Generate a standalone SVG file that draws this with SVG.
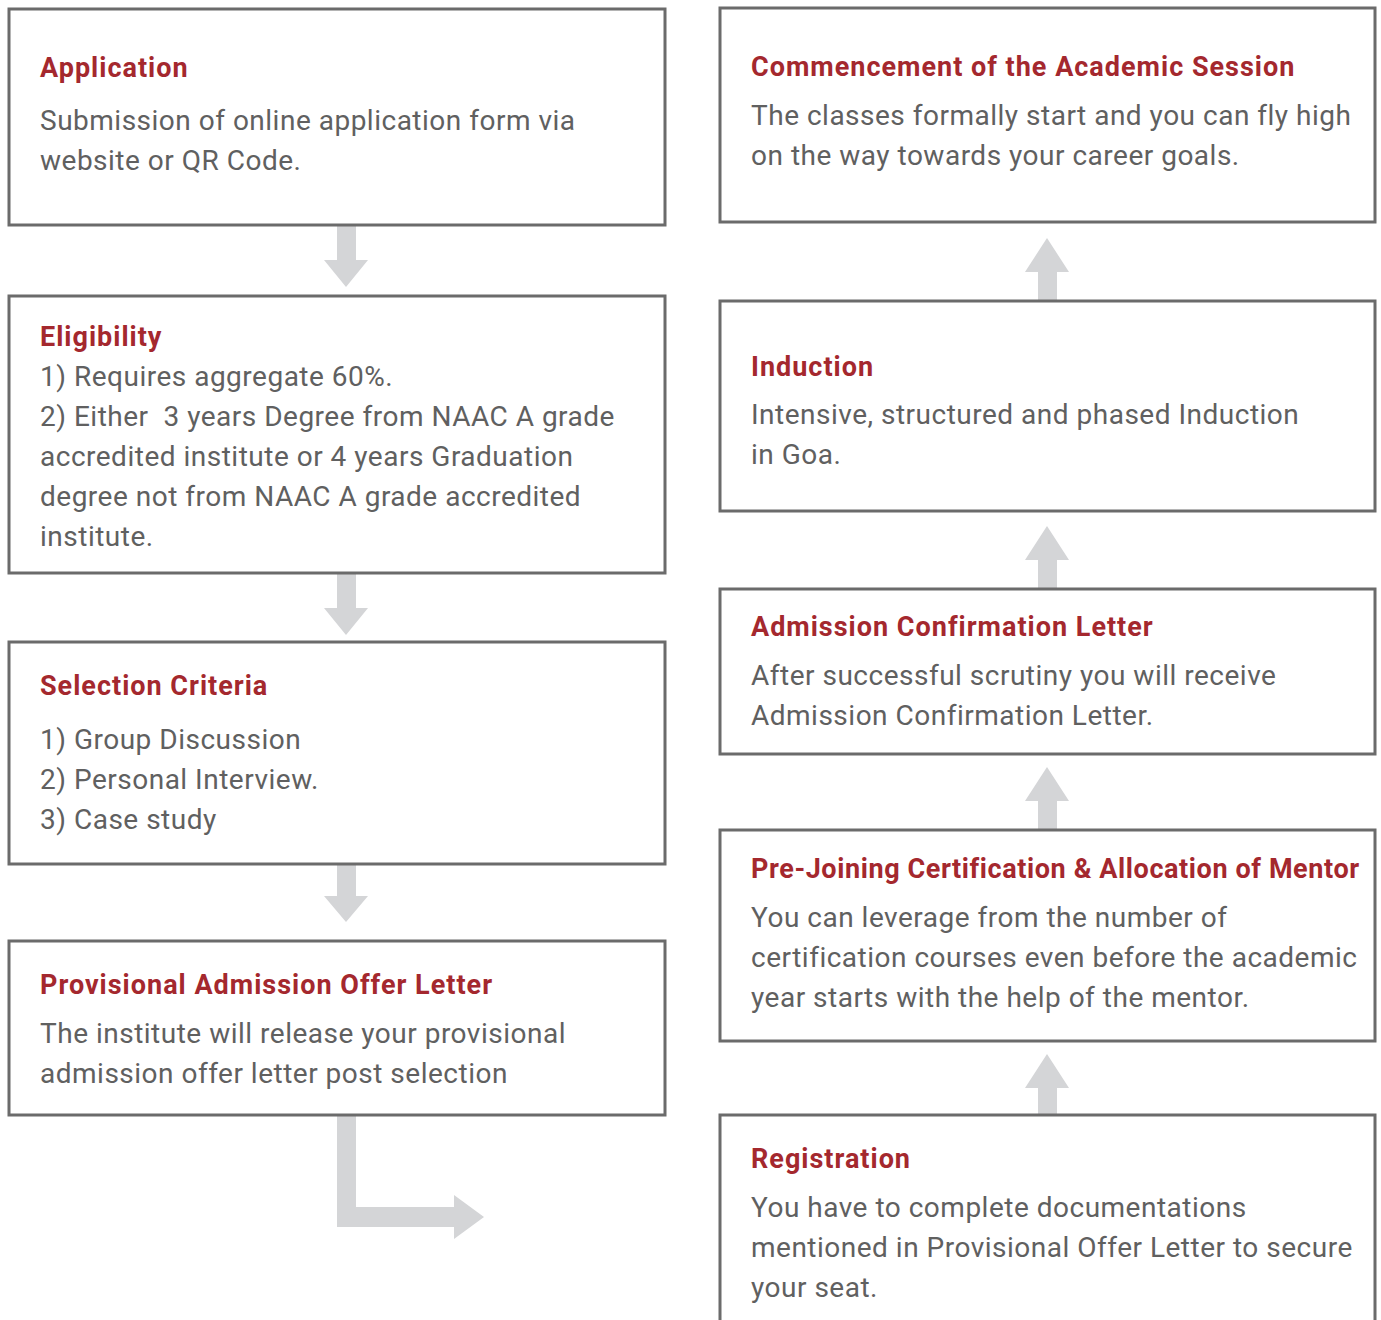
<svg xmlns="http://www.w3.org/2000/svg" width="1381" height="1320" viewBox="0 0 1381 1320">
<style>
.box{fill:#fff;stroke:#6b6b6b;stroke-width:3}
.t{font-family:Roboto,"Liberation Sans",sans-serif;font-weight:bold;font-size:27px;fill:#a4282e;letter-spacing:1px}
.b{font-family:Roboto,"Liberation Sans",sans-serif;font-size:28px;fill:#606060;letter-spacing:0.5px}
.arr{fill:#d4d5d7}
</style>
<rect width="1381" height="1320" fill="#fff"/>
<g id="connectors">
<path class="arr" d="M337,226 H356 V260 H368 L346,287 L324,260 H337 Z"/>
<path class="arr" d="M337,574 H356 V608 H368 L346,635 L324,608 H337 Z"/>
<path class="arr" d="M337,864 H356 V896 H368 L346,922 L324,896 H337 Z"/>
<path class="arr" d="M337,1116 H356 V1207 H454 V1195 L484,1217 L454,1239 V1227 H337 Z"/>
<path class="arr" d="M1038,300 H1057 V272 H1069 L1047,238 L1025,272 H1038 Z"/>
<path class="arr" d="M1038,588 H1057 V560 H1069 L1047,526 L1025,560 H1038 Z"/>
<path class="arr" d="M1038,829 H1057 V801 H1069 L1047,767 L1025,801 H1038 Z"/>
<path class="arr" d="M1038,1114 H1057 V1088 H1069 L1047,1054 L1025,1088 H1038 Z"/>
</g>
<g id="application">
<rect class="box" x="9" y="9" width="656" height="216"/>
<text class="t" x="40" y="77">Application</text>
<text class="b" x="40" y="130">Submission of online application form via</text>
<text class="b" x="40" y="170">website or QR Code.</text>
</g>
<g id="eligibility">
<rect class="box" x="9" y="296" width="656" height="277"/>
<text class="t" x="40" y="346">Eligibility</text>
<text class="b" x="40" y="386">1) Requires aggregate 60%.</text>
<text class="b" x="40" y="426" style="white-space:pre">2) Either  3 years Degree from NAAC A grade</text>
<text class="b" x="40" y="466">accredited institute or 4 years Graduation</text>
<text class="b" x="40" y="506">degree not from NAAC A grade accredited</text>
<text class="b" x="40" y="546">institute.</text>
</g>
<g id="selection">
<rect class="box" x="9" y="642" width="656" height="222"/>
<text class="t" x="40" y="695">Selection Criteria</text>
<text class="b" x="40" y="749">1) Group Discussion</text>
<text class="b" x="40" y="789">2) Personal Interview.</text>
<text class="b" x="40" y="829">3) Case study</text>
</g>
<g id="provisional">
<rect class="box" x="9" y="941" width="656" height="174"/>
<text class="t" x="40" y="994">Provisional Admission Offer Letter</text>
<text class="b" x="40" y="1043">The institute will release your provisional</text>
<text class="b" x="40" y="1083">admission offer letter post selection</text>
</g>
<g id="commencement">
<rect class="box" x="720" y="8" width="655" height="214"/>
<text class="t" x="751" y="76">Commencement of the Academic Session</text>
<text class="b" x="751" y="125">The classes formally start and you can fly high</text>
<text class="b" x="751" y="165">on the way towards your career goals.</text>
</g>
<g id="induction">
<rect class="box" x="720" y="301" width="655" height="210"/>
<text class="t" x="751" y="376">Induction</text>
<text class="b" x="751" y="424">Intensive, structured and phased Induction</text>
<text class="b" x="751" y="464">in Goa.</text>
</g>
<g id="admission">
<rect class="box" x="720" y="589" width="655" height="165"/>
<text class="t" x="751" y="636">Admission Confirmation Letter</text>
<text class="b" x="751" y="685">After successful scrutiny you will receive</text>
<text class="b" x="751" y="725">Admission Confirmation Letter.</text>
</g>
<g id="prejoining">
<rect class="box" x="720" y="830" width="655" height="211"/>
<text class="t" x="751" y="878" style="letter-spacing:0.6px">Pre-Joining Certification &amp; Allocation of Mentor</text>
<text class="b" x="751" y="927">You can leverage from the number of</text>
<text class="b" x="751" y="967">certification courses even before the academic</text>
<text class="b" x="751" y="1007">year starts with the help of the mentor.</text>
</g>
<g id="registration">
<rect class="box" x="720" y="1115" width="655" height="220"/>
<text class="t" x="751" y="1168">Registration</text>
<text class="b" x="751" y="1217">You have to complete documentations</text>
<text class="b" x="751" y="1257">mentioned in Provisional Offer Letter to secure</text>
<text class="b" x="751" y="1297">your seat.</text>
</g>
</svg>
